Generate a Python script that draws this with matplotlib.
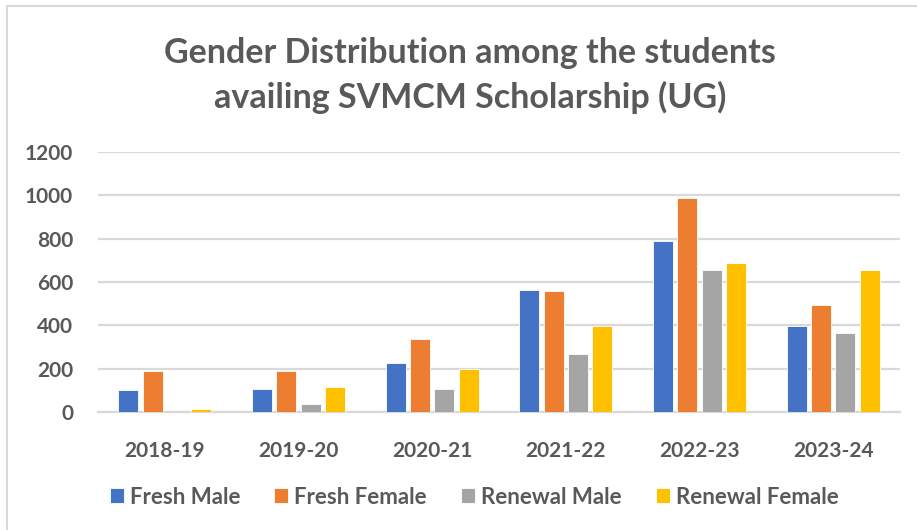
import matplotlib
matplotlib.use("Agg")
import matplotlib.pyplot as plt
import matplotlib.patches as mpatches
import numpy as np

categories = ["2018-19", "2019-20", "2020-21", "2021-22", "2022-23", "2023-24"]
fresh_male = [101, 107, 227, 565, 789, 395]
fresh_female = [191, 191, 338, 559, 988, 495]
renewal_male = [0, 35, 107, 268, 654, 363]
renewal_female = [15, 115, 200, 398, 689, 657]
series_names = ["Fresh Male", "Fresh Female", "Renewal Male", "Renewal Female"]
yticks = [0, 200, 400, 600, 800, 1000, 1200]
title_lines = ["Gender Distribution among the students",
               "availing SVMCM Scholarship (UG)"]

colors = ["#4472C4", "#ED7D31", "#A5A5A5", "#FFC000"]
text_color = "#595959"
grid_color = "#D9D9D9"

plt.rcParams["font.family"] = ["Lato", "DejaVu Sans"]

W, H = 917, 530
fig = plt.figure(figsize=(W / 100, H / 100), dpi=100)
fig.patch.set_facecolor("white")

ax = fig.add_axes([98 / W, 1 - 412 / H, (900 - 98) / W, (412 - 152) / H])

x = np.arange(len(categories))
pitch = 0.182
width = 0.148
all_series = [fresh_male, fresh_female, renewal_male, renewal_female]
handles = []
for i, (vals, name, c) in enumerate(zip(all_series, series_names, colors)):
    offs = (i - 1.5) * pitch
    b = ax.bar(x + offs, vals, width=width, color=c, edgecolor="white",
               linewidth=0.6, label=name, zorder=3)
    handles.append(b)

ax.set_xlim(-0.5, len(categories) - 0.5)
ax.set_ylim(0, 1200)
ax.set_yticks(yticks)
ax.set_yticklabels([str(v) for v in yticks])
ax.set_xticks(x)
ax.set_xticklabels(categories)
ax.yaxis.grid(True, color=grid_color, linewidth=1.6, zorder=0)
ax.set_axisbelow(True)
for s in ["top", "right", "left"]:
    ax.spines[s].set_visible(False)
ax.spines["bottom"].set_color(grid_color)
ax.spines["bottom"].set_linewidth(1.6)
ax.tick_params(axis="both", length=0, labelsize=15, labelcolor=text_color)
ax.tick_params(axis="y", pad=18)
ax.tick_params(axis="x", pad=21)
for lbl in ax.get_xticklabels() + ax.get_yticklabels():
    lbl.set_fontweight("bold")

for yb, line in zip([63, 108], title_lines):
    fig.text(470 / W, 1 - yb / H, line, ha="center", va="baseline",
             fontsize=24.5, fontweight="bold", color=text_color)

leg = fig.legend(handles=handles, labels=series_names, loc="center",
                 bbox_to_anchor=(474 / W, 1 - 497 / H), ncol=4, frameon=False,
                 handlelength=0.63, handleheight=0.63,
                 handletextpad=0.27, columnspacing=1.53,
                 prop={"weight": "bold", "size": 16})
for t in leg.get_texts():
    t.set_color(text_color)

border = mpatches.Rectangle((7 / W, -0.1), 1.2, 1 - 6 / H + 0.1,
                            transform=fig.transFigure, fill=False,
                            edgecolor=grid_color, linewidth=1.5, clip_on=False)
fig.patches.append(border)

fig.savefig("out.png", dpi=100, facecolor="white")
